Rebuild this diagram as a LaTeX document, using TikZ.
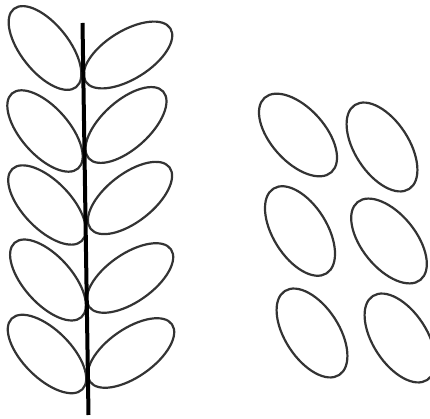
\documentclass[tikz,border=0pt]{standalone}
\begin{document}
\begin{tikzpicture}[x=1pt,y=1pt,
  leaf/.style={draw=black!80, line width=2.2pt},
  stem/.style={draw=black, line width=4pt}]
\useasboundingbox (0,0) rectangle (430,419);
% centres given in image pixels (x, y from top)
\foreach \cx/\cy/\ang in {45/48/-51.5, 45/131/-48.5, 47/205/-46, 48/280/-48, 47/354/-45}{
  \draw[leaf, rotate around={\ang:(\cx,419-\cy)}] (\cx,419-\cy) ellipse (50pt and 24pt);
}
\foreach \cx/\cy/\ang in {128/55/32, 126/125/42, 130/198/38, 130/278/35, 131/353/35}{
  \draw[leaf, rotate around={\ang:(\cx,419-\cy)}] (\cx,419-\cy) ellipse (50pt and 24pt);
}
\foreach \cx/\cy/\ang in {298/135/-48, 382/147/-57, 300/231/-58, 389/241/-51, 312/333/-57, 400/338/-57}{
  \draw[leaf, rotate around={\ang:(\cx,419-\cy)}] (\cx,419-\cy) ellipse (50pt and 27pt);
}
\coordinate (stemtop) at (82.5,396);
\coordinate (stembot) at (88.5,4);
\draw[stem] (stemtop) -- (stembot);
\end{tikzpicture}
\end{document}
